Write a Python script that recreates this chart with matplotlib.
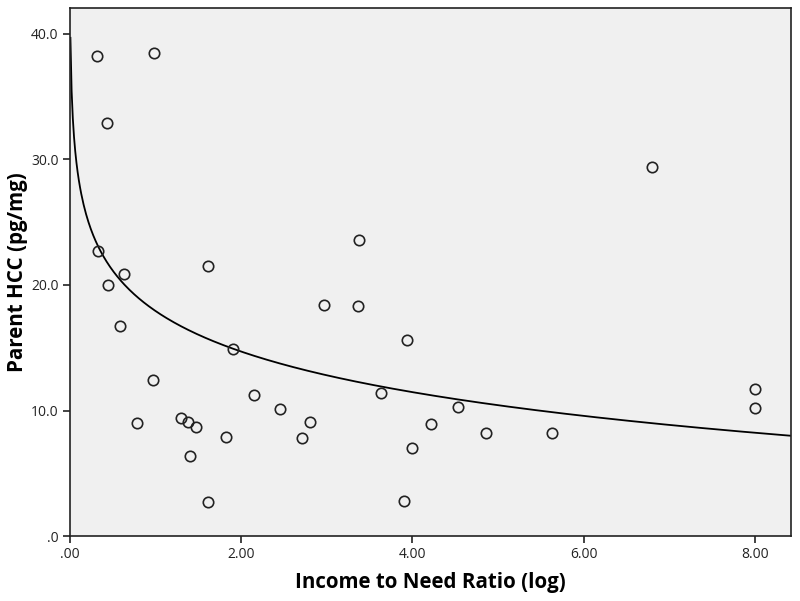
import numpy as np
import matplotlib
matplotlib.use('Agg')
import matplotlib.pyplot as plt
from matplotlib.ticker import FuncFormatter

# income to need ratio (log) vs parent HCC
ratio = [0.32, 0.99, 0.44, 3.38, 0.33, 0.64, 1.61, 0.45, 6.80,
         2.97, 3.36, 0.59, 1.91, 0.97, 3.63, 2.15, 2.46, 0.79,
         1.30, 1.38, 1.47, 2.81, 1.82, 2.71, 1.40, 1.61, 3.90,
         3.94, 8.00, 8.00, 4.53, 4.22, 4.86, 5.63, 3.99]
hcc = [38.2, 38.5, 32.9, 23.6, 22.7, 20.9, 21.5, 20.0, 29.4,
       18.4, 18.35, 16.7, 14.9, 12.4, 11.4, 11.2, 10.1, 9.0,
       9.4, 9.1, 8.7, 9.1, 7.9, 7.8, 6.35, 2.7, 2.8,
       15.6, 11.75, 10.2, 10.3, 8.9, 8.2, 8.2, 7.05]

# logarithmic fit line: hcc = b0 + b1 * ln(ratio), coefficients
b0 = 17.94
b1 = -4.67

xticks = [0, 2, 4, 6, 8]
yticks = [0, 10, 20, 30, 40]

plt.rcParams['font.family'] = ['Open Sans', 'DejaVu Sans']

fig = plt.figure(figsize=(8, 6.01), dpi=100)
ax = fig.add_axes([0.087, 0.108, 0.902, 0.8795])
ax.set_facecolor('#f0f0f0')

xs = np.linspace(0.0095, 8.42, 600)
ax.plot(xs, b0 + b1 * np.log(xs), color='black', linewidth=1.3)

ax.plot(ratio, hcc, linestyle='none', marker='o', markersize=7.5,
        markerfacecolor='none', markeredgecolor='#222222', markeredgewidth=1.2)

ax.set_xlim(0, 8.42)
ax.set_ylim(0, 42.1)
ax.set_xticks(xticks)
ax.set_yticks(yticks)


def fmt_x(v, pos):
    s = '%.2f' % v
    return s[1:] if s.startswith('0') else s


def fmt_y(v, pos):
    s = '%.1f' % v
    return s[1:] if s.startswith('0') else s


ax.xaxis.set_major_formatter(FuncFormatter(fmt_x))
ax.yaxis.set_major_formatter(FuncFormatter(fmt_y))
ax.tick_params(direction='out', length=5, width=1.2, labelsize=10, colors='#222222', pad=3)
for s in ax.spines.values():
    s.set_linewidth(1.2)
    s.set_color('#222222')

ax.set_xlabel('Income to Need Ratio (log)', fontsize=14.8, fontweight='bold', labelpad=7)
ax.set_ylabel('Parent HCC (pg/mg)', fontsize=14.8, fontweight='bold', labelpad=2)

fig.savefig('out.png', dpi=100, facecolor='white')
